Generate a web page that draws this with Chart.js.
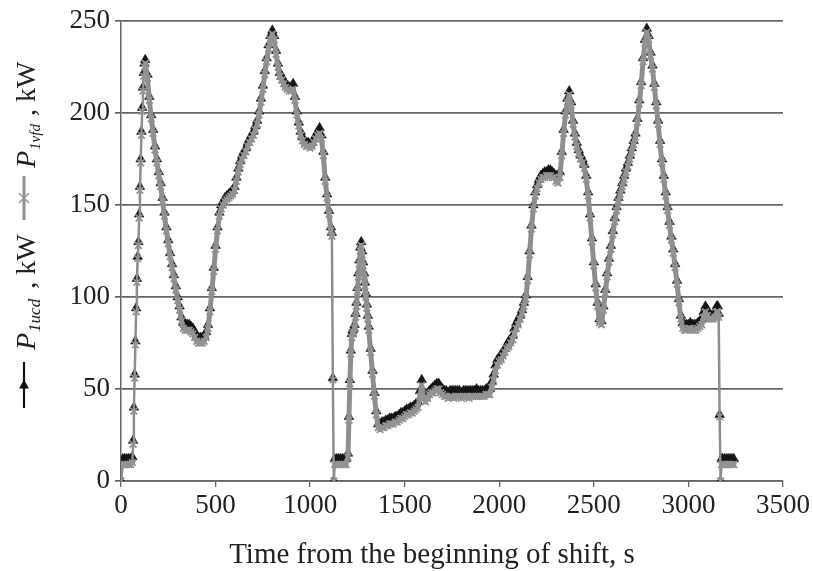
<!DOCTYPE html>
<html>
<head>
<meta charset="utf-8">
<script src="https://cdn.jsdelivr.net/npm/chart.js@4.4.1/dist/chart.umd.min.js"></script>
<style>
  html, body { margin: 0; padding: 0; background: #ffffff; }
  #wrap { width: 813px; height: 571px; position: relative; }
  canvas { display: block; }
</style>
</head>
<body>
<div id="wrap"><canvas id="c" width="813" height="571"></canvas></div>
<script>
// Time from the beginning of shift, s
const times = [
  0,10,20,30,40,50,60,64,68,72,76,80,84,88,92,96,100,104,108,112,116,120,124,128,
  140,150,160,170,180,190,200,210,220,230,
  240,250,260,270,280,290,300,310,320,330,
  340,350,360,370,380,390,400,410,420,430,
  440,450,460,470,480,490,500,510,520,530,
  540,550,560,570,580,590,600,610,620,630,
  640,650,660,670,680,690,700,710,720,730,
  740,750,760,770,780,790,800,810,820,830,
  840,850,860,870,880,890,900,910,920,930,
  940,950,960,970,980,990,1000,1010,1020,1030,
  1040,1050,1060,1070,1080,1090,1100,1110,
  1115,1120,1125,1130,1140,1150,1160,1170,1180,1190,1200,
  1205,1210,1215,1220,1225,1230,1235,1240,1245,1250,
  1255,1260,1265,1270,1275,1280,1285,1290,1295,1300,1305,
  1310,1320,1330,1340,1350,1360,1370,1380,1390,1400,
  1410,1420,1430,1440,1450,1460,1470,1480,1490,1500,
  1510,1520,1530,1540,1550,1560,1570,1580,1590,1600,
  1610,1620,1630,1640,1650,1660,1670,1680,1690,1700,
  1710,1720,1730,1740,1750,1760,1770,1780,1790,1800,
  1810,1820,1830,1840,1850,1860,1870,1880,1890,1900,
  1910,1920,1930,1940,1950,1960,1970,1980,1990,2000,
  2010,2020,2030,2040,2050,2060,2070,2080,2090,2100,
  2110,2120,2130,2140,2150,2160,2170,2180,2190,2200,
  2210,2220,2230,2240,2250,2260,2270,2280,2290,2300,
  2310,2320,2330,2340,2350,2360,2370,2380,2390,2400,
  2410,2420,2430,2440,2450,2460,2470,2480,2490,2500,
  2510,2520,2530,2540,2550,2560,2570,2580,2590,2600,
  2610,2620,2630,2640,2650,2660,2670,2680,2690,2700,
  2710,2720,2730,2740,2750,2760,2770,2780,2790,2800,
  2810,2820,2830,2840,2850,2860,2870,2880,2890,2900,
  2910,2920,2930,2940,2950,2960,2970,2980,2990,3000,
  3010,3020,3030,3040,3050,3060,3070,3080,3090,3100,
  3110,3120,3130,3140,3150,
  3155,3160,3165,3170,3175,3180,3190,3200,3210,3220,3230,3240
];

// P1vfd, kW (grey, x markers)
const p1vfd = [
  0,9,9,9,9,9,10,20,38,56,74,92,108,121,128,143,158,173,188,201,212,220,225,227,
  219,207,197,189,180,173,166,160,152,144,
  136,129,122,116,110,104,98,93,87,83,
  82,82,82,81,80,78,76,75,75,75,
  76,78,83,92,103,114,126,136,144,148,
  150,152,153,154,155,156,158,163,168,172,
  175,177,179,182,184,186,188,191,194,199,
  206,213,221,228,235,240,243,240,232,225,
  220,218,216,214,213,212,212,213,207,199,
  193,188,185,183,182,182,181,182,184,186,
  188,189,186,177,163,154,145,136,
  133,55,0,9,9,9,9,9,9,9,13,
  33,53,69,78,80,81,83,89,95,103,
  111,118,125,128,123,117,111,106,100,94,88,
  82,70,58,46,36,29,28,29,29,30,
  30,31,31,31,32,32,33,34,34,35,
  36,36,37,37,38,39,40,46,52,45,
  43,45,47,48,48,49,50,50,48,47,
  46,46,45,46,46,45,46,46,46,45,
  46,46,46,45,46,46,46,46,46,46,
  46,46,47,47,47,51,55,60,63,65,
  66,68,70,72,73,75,77,80,83,85,
  88,91,95,99,109,123,137,148,155,159,
  162,164,165,165,166,166,166,165,165,163,
  162,165,177,189,199,206,210,204,194,187,
  182,178,175,173,170,164,155,143,130,117,
  105,95,86,85,93,102,111,119,126,134,
  141,147,152,156,160,164,168,171,175,179,
  183,187,195,205,215,228,238,244,240,231,
  224,214,204,194,183,173,164,155,147,139,
  131,124,116,107,97,88,83,82,82,83,
  83,82,82,82,83,84,85,89,92,90,
  88,88,88,89,92,
  92,89,35,0,9,9,9,9,9,9,9,9
];

// P1ucd, kW (black, triangle markers)
const p1ucd = [
  0,12,12,12,12,12,13,22,40,58,76,94,110,122,130,145,160,175,190,203,214,222,227,229,
  221,209,199,191,182,175,168,162,154,146,
  138,131,124,118,112,106,100,95,89,86,
  85,85,85,84,83,81,79,78,78,78,
  79,81,85,94,105,116,128,138,146,150,
  152,154,155,156,157,158,160,165,170,174,
  177,179,181,184,186,188,190,193,196,201,
  208,215,223,230,237,242,245,242,234,227,
  222,220,218,216,215,214,214,216,209,201,
  195,190,187,185,184,184,183,184,186,188,
  190,192,188,179,165,156,147,138,
  135,56,0,12,12,12,12,12,12,12,15,
  35,55,71,80,82,83,85,91,97,105,
  113,120,127,130,125,119,113,108,102,96,90,
  84,72,60,48,38,31,31,32,32,33,
  33,34,34,34,35,35,36,37,37,38,
  39,39,40,40,41,42,43,49,55,48,
  46,47,49,50,51,52,53,53,51,50,
  49,49,48,49,49,49,49,49,49,48,
  49,49,49,49,49,49,49,50,49,49,
  49,49,50,50,50,54,58,63,66,67,
  69,70,72,74,76,77,79,83,86,88,
  90,93,97,101,111,125,139,150,157,161,
  164,166,167,168,168,169,169,168,167,166,
  165,168,179,191,201,208,212,206,196,189,
  184,180,177,175,172,166,157,145,132,119,
  107,97,88,87,95,104,113,121,128,136,
  143,149,154,158,162,166,170,173,177,181,
  185,189,197,207,217,230,240,246,242,233,
  226,216,206,196,185,175,166,157,149,141,
  133,126,118,109,99,90,86,85,85,85,
  86,85,85,85,86,87,88,92,95,93,
  90,90,90,91,95,
  95,91,36,0,12,12,12,12,12,12,12,12
];

const yTicks = [0, 50, 100, 150, 200, 250];
const xTicks = [0, 500, 1000, 1500, 2000, 2500, 3000, 3500];

const SERIF = '"Liberation Serif", "Times New Roman", serif';

const ptsU = times.map((t, i) => ({ x: t, y: p1ucd[i] }));
const ptsV = times.map((t, i) => ({ x: t, y: p1vfd[i] }));

function drawKey(ctx, k) {
  ctx.save();
  ctx.strokeStyle = k.line;
  ctx.lineWidth = k.lw;
  ctx.beginPath();
  ctx.moveTo(k.x, k.y0);
  ctx.lineTo(k.x, k.y1);
  ctx.stroke();
  const my = k.my;
  if (k.type === 'tri') {
    ctx.fillStyle = k.fill;
    ctx.beginPath();
    ctx.moveTo(k.x, my - 5.5);
    ctx.lineTo(k.x + 5, my + 3.5);
    ctx.lineTo(k.x - 5, my + 3.5);
    ctx.closePath();
    ctx.fill();
  } else {
    ctx.strokeStyle = '#999';
    ctx.lineWidth = 1.6;
    ctx.beginPath();
    ctx.moveTo(k.x - 5, my - 5); ctx.lineTo(k.x + 5, my + 5);
    ctx.moveTo(k.x + 5, my - 5); ctx.lineTo(k.x - 5, my + 5);
    ctx.stroke();
  }
  ctx.restore();
}

function drawRotatedLabel(ctx, baseX, startY, sub, subSize, gap) {
  ctx.save();
  ctx.translate(baseX, startY);
  ctx.rotate(-Math.PI / 2);
  ctx.fillStyle = '#222';
  ctx.textBaseline = 'alphabetic';
  ctx.textAlign = 'left';
  let u = 0;
  ctx.font = 'italic 28px ' + SERIF;
  ctx.fillText('P', u, 0);
  u += ctx.measureText('P').width + 1;
  ctx.font = 'italic ' + subSize + 'px ' + SERIF;
  ctx.fillText(sub, u, 5);
  u += ctx.measureText(sub).width + gap;
  ctx.font = '28px ' + SERIF;
  ctx.fillText(', kW', u, 0);
  ctx.restore();
}

const annotPlugin = {
  id: 'annot',
  afterDraw(chart) {
    const ctx = chart.ctx;
    drawKey(ctx, { x: 24, y0: 362, y1: 408, my: 385, type: 'tri', line: '#111', fill: '#111', lw: 2.2 });
    drawRotatedLabel(ctx, 35, 350, '1ucd', 17, 10);
    drawKey(ctx, { x: 24, y0: 176, y1: 220, my: 198, type: 'x', line: '#8f8f8f', lw: 3 });
    drawRotatedLabel(ctx, 35, 168, '1vfd', 15, 8);
    ctx.save();
    ctx.fillStyle = '#222';
    ctx.font = '29px ' + SERIF;
    ctx.textAlign = 'center';
    ctx.textBaseline = 'alphabetic';
    ctx.fillText('Time from the beginning of shift, s', 432, 563);
    ctx.restore();
  }
};

new Chart(document.getElementById('c'), {
  type: 'line',
  data: {
    datasets: [
      {
        label: 'P1ucd, kW',
        data: ptsU,
        order: 2,
        borderColor: '#2a2a2a',
        borderWidth: 1,
        pointStyle: 'triangle',
        pointRadius: 5.6,
        pointBackgroundColor: '#141414',
        pointBorderColor: '#141414',
        pointBorderWidth: 0.5,
        tension: 0
      },
      {
        label: 'P1vfd, kW',
        data: ptsV,
        order: 1,
        borderColor: '#8e8e8e',
        borderWidth: 5,
        segment: {
          borderWidth: ctx => {
            const dt = ctx.p1.parsed.x - ctx.p0.parsed.x;
            const y0 = ctx.p0.parsed.y, y1 = ctx.p1.parsed.y;
            const dy = Math.abs(y1 - y0);
            return (dt < 5 || dy / dt > 6 || y0 === 0 || y1 === 0) ? 2.5 : 5;
          }
        },
        borderJoinStyle: 'round',
        borderCapStyle: 'round',
        pointStyle: 'crossRot',
        pointRadius: 4.7,
        pointBorderColor: '#939393',
        pointBackgroundColor: '#939393',
        pointBorderWidth: 1.8,
        tension: 0
      }
    ]
  },
  options: {
    responsive: false,
    animation: false,
    devicePixelRatio: 1,
    layout: { padding: { top: 21, right: 26, left: 0, bottom: 0 } },
    plugins: {
      legend: { display: false },
      tooltip: { enabled: false }
    },
    scales: {
      x: {
        type: 'linear',
        min: 0, max: 3500,
        afterFit(scale) { scale.height = 90; },
        afterBuildTicks(scale) { scale.ticks = xTicks.map(v => ({ value: v })); },
        grid: { display: true, drawOnChartArea: false, drawTicks: true, tickLength: 6, color: '#666', lineWidth: 1.3 },
        border: { display: true, color: '#666', width: 1.5 },
        ticks: { color: '#222', font: { family: SERIF, size: 27 }, padding: 3, maxRotation: 0, autoSkip: false,
                 callback: v => String(v) }
      },
      y: {
        type: 'linear',
        min: 0, max: 250,
        afterFit(scale) { scale.width = 121; },
        afterBuildTicks(scale) { scale.ticks = yTicks.map(v => ({ value: v })); },
        grid: { display: true, drawOnChartArea: true, drawTicks: true, tickLength: 6, color: '#666', lineWidth: 1.7 },
        border: { display: true, color: '#666', width: 1.5 },
        ticks: { color: '#222', font: { family: SERIF, size: 27 }, padding: 5, callback: v => String(v) }
      }
    }
  },
  plugins: [annotPlugin]
});
</script>
</body>
</html>
